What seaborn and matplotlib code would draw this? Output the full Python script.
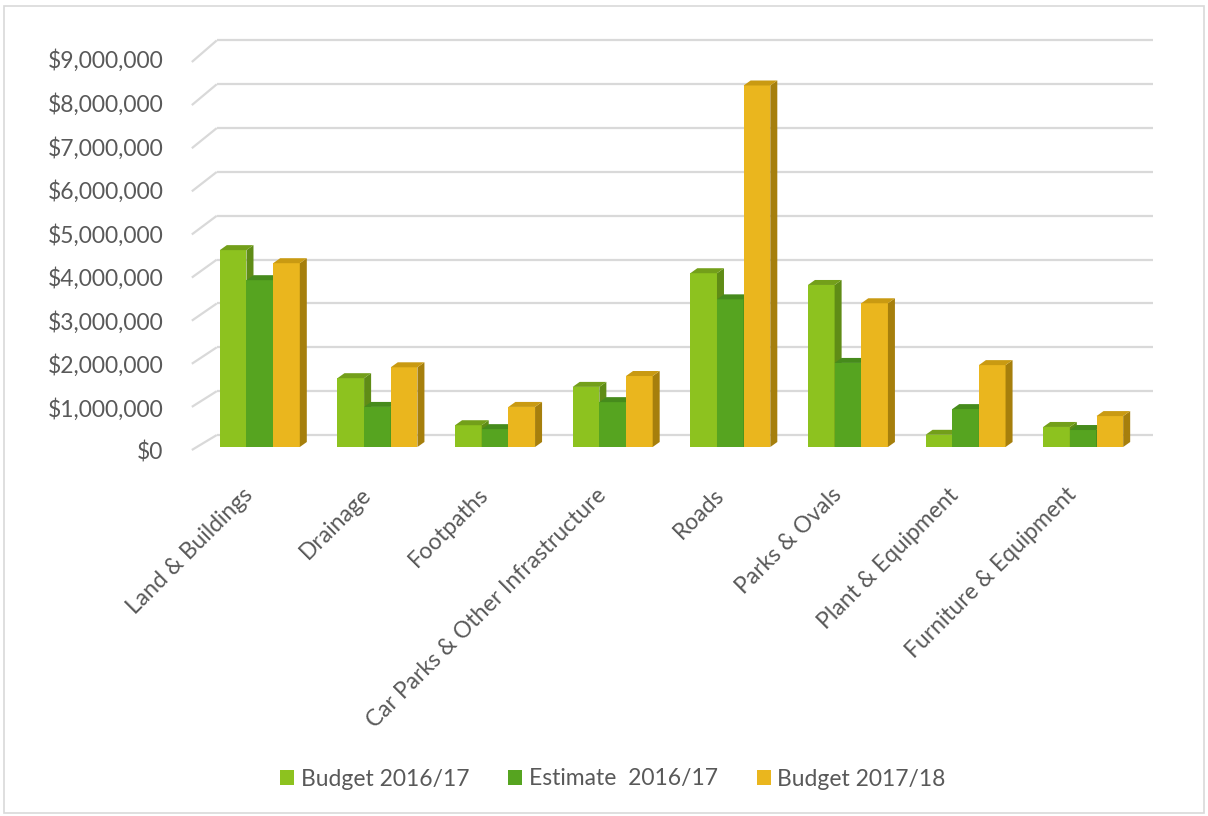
import numpy as np
import pandas as pd
import seaborn as sns
import matplotlib.pyplot as plt
from matplotlib.patches import Polygon, Rectangle, Patch
from matplotlib.transforms import ScaledTranslation
from matplotlib.ticker import FuncFormatter

# ---- data ($) ----
categories = ["Land & Buildings", "Drainage", "Footpaths",
              "Car Parks & Other Infrastructure", "Roads", "Parks & Ovals",
              "Plant & Equipment", "Furniture & Equipment"]
series = ["Budget 2016/17", "Estimate  2016/17", "Budget 2017/18"]
budget_2016 = [4520000, 1580000, 500000, 1380000, 3990000, 3720000, 280000, 460000]
estimate_2016 = [3830000, 920000, 410000, 1030000, 3390000, 1930000, 870000, 390000]
budget_2017 = [4220000, 1830000, 920000, 1630000, 8300000, 3300000, 1880000, 710000]
y_ticks = [0, 1000000, 2000000, 3000000, 4000000, 5000000,
           6000000, 7000000, 8000000, 9000000]

front_colors = ["#8DC21F", "#56A420", "#EAB61E"]
side_colors = ["#5F8C16", "#3B7A18", "#A67F0C"]
top_colors = ["#739F1A", "#468B1C", "#C99A12"]
text_color = "#595959"
grid_color = "#D9D9D9"

df = pd.DataFrame({
    "category": list(categories) * 3,
    "series": np.repeat(series, len(categories)),
    "value": budget_2016 + estimate_2016 + budget_2017,
})

sns.set_theme(style="white")
plt.rcParams["font.family"] = ["Lato", "DejaVu Sans"]

W, H = 1208, 816
fig = plt.figure(figsize=(W / 100, H / 100), dpi=100)
ax = fig.add_axes([201 / W, (H - 447) / H, 941 / W, 392 / H])

sns.barplot(data=df, x="category", y="value", hue="series",
            order=categories, hue_order=series, palette=front_colors,
            width=0.68, gap=0, saturation=1, edgecolor="none",
            linewidth=0, ax=ax)

ax.set_xlim(-0.5, 7.5)
ax.set_ylim(0, 9000000)

# pixel scale helpers for the pseudo-3D depth
px_x = 1 / 117.6          # category units per pixel
px_y = 1e6 / 43.6         # dollars per pixel
ddx, ddy = 7 * px_x, 5 * px_y

# side and top faces for each bar, layered series by series
for i, cont in enumerate(ax.containers):
    for bar in cont.patches:
        bar.set_zorder(3 + 3 * i)
        x0 = bar.get_x()
        x1 = x0 + bar.get_width()
        h = bar.get_height()
        side = Polygon([(x1, 0), (x1 + ddx, ddy), (x1 + ddx, h + ddy), (x1, h)],
                       closed=True, facecolor=side_colors[i], edgecolor="none",
                       zorder=4 + 3 * i, clip_on=False)
        top = Polygon([(x0, h), (x1, h), (x1 + ddx, h + ddy), (x0 + ddx, h + ddy)],
                      closed=True, facecolor=top_colors[i], edgecolor="none",
                      zorder=5 + 3 * i, clip_on=False)
        ax.add_patch(side)
        ax.add_patch(top)

# back-wall gridlines with short floor-to-wall connectors on the left
x_front, x_back, x_end = -0.578, -0.366, 7.594
for v in y_ticks:
    frac = v / 9000000
    y_front = v - (3 + 4 * frac) * px_y
    y_back = v + (12 + 2.6 * frac) * px_y
    ax.plot([x_back, x_end], [y_back, y_back], color=grid_color, lw=1.6,
            zorder=1, clip_on=False, solid_capstyle="butt")
    ax.plot([x_front, x_back], [y_front, y_back], color=grid_color, lw=1.6,
            zorder=1, clip_on=False, solid_capstyle="butt")

ax.grid(False)
for s in ax.spines.values():
    s.set_visible(False)

ax.set_yticks(y_ticks)
ax.yaxis.set_major_formatter(FuncFormatter(lambda v, p: f"${v:,.0f}"))
ax.tick_params(axis="y", length=0, pad=27, labelsize=16.5, labelcolor=text_color)
ax.tick_params(axis="x", length=0, pad=32, labelsize=16.5, labelcolor=text_color)
ax.set_xlabel("")
ax.set_ylabel("")
y_shift = ScaledTranslation(0, -0.04, fig.dpi_scale_trans)
for lbl in ax.get_yticklabels():
    lbl.set_transform(lbl.get_transform() + y_shift)
x_shift = ScaledTranslation(-0.10, 0, fig.dpi_scale_trans)
for lbl in ax.get_xticklabels():
    lbl.set_rotation(45)
    lbl.set_ha("right")
    lbl.set_va("center")
    lbl.set_rotation_mode("anchor")
    lbl.set_transform(lbl.get_transform() + x_shift)

# legend beneath the chart
if ax.get_legend() is not None:
    ax.get_legend().remove()
handles = [Patch(facecolor=c, edgecolor="none") for c in front_colors]
fig.legend(handles, series, loc="center", bbox_to_anchor=(613 / W, 1 - 779 / H),
           ncol=3, frameon=False, handlelength=0.6, handleheight=0.6,
           handletextpad=0.3, columnspacing=1.7, fontsize=16.5,
           labelcolor=text_color)

# chart-area outline
fig.add_artist(Rectangle((4 / W, 3 / H), 1 - 8 / W, 1 - 9 / H,
                         transform=fig.transFigure, fill=False,
                         edgecolor=grid_color, lw=1.2))

fig.savefig("out.png", dpi=100)
